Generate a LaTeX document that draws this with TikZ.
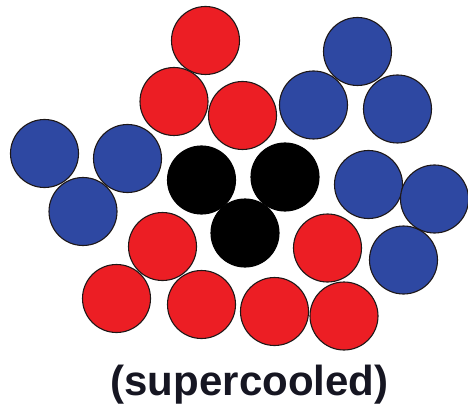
\documentclass[tikz,border=0pt]{standalone}
\usepackage{fontspec}
\setmainfont{Liberation Sans}
\definecolor{atomred}{RGB}{236,30,36}
\definecolor{atomblue}{RGB}{46,72,162}
\definecolor{atomblack}{RGB}{0,0,0}
\definecolor{rim}{RGB}{30,24,24}
\definecolor{labelink}{RGB}{22,22,34}
\tikzset{
  atom/.style={circle, draw=rim, line width=1.1pt, minimum size=68pt, inner sep=0pt},
  redatom/.style={atom, fill=atomred},
  blueatom/.style={atom, fill=atomblue},
  blackatom/.style={atom, fill=atomblack, draw=atomblack},
}
\begin{document}
\begin{tikzpicture}[x=1pt,y=-1pt]
\useasboundingbox (0,0) rectangle (468,406);
% upper red cluster
\node[redatom] (r1) at (205.5,40.5) {};
\node[redatom] (r2) at (174,101.5) {};
\node[redatom] (r3) at (242.5,115.5) {};
% upper right blue cluster
\node[blueatom] (b1) at (357.5,51.5) {};
\node[blueatom] (b2) at (313.5,105) {};
\node[blueatom] (b3) at (397.5,109) {};
% left blue cluster
\node[blueatom] (b4) at (44.5,153.5) {};
\node[blueatom] (b5) at (127.5,158.5) {};
\node[blueatom] (b6) at (83,211.5) {};
% central black cluster
\node[blackatom] (k1) at (201.5,180) {};
\node[blackatom] (k2) at (285,177) {};
\node[blackatom] (k3) at (245,233) {};
% right blue cluster
\node[blueatom] (b7) at (368.5,184.5) {};
\node[blueatom] (b8) at (434.5,199) {};
\node[blueatom] (b9) at (403.5,260) {};
% lower red atoms
\node[redatom] (r4) at (162.5,246.5) {};
\node[redatom] (r5) at (327.5,248) {};
\node[redatom] (r6) at (116.5,298.5) {};
\node[redatom] (r7) at (201.5,304.5) {};
\node[redatom] (r8) at (274.5,311.5) {};
\node[redatom] (r9) at (344,316) {};
% caption
\node[anchor=base, inner sep=0pt, text=labelink, font=\fontsize{42}{48}\selectfont\bfseries] (cap) at (249.5,395) {(supercooled)};
\end{tikzpicture}
\end{document}
